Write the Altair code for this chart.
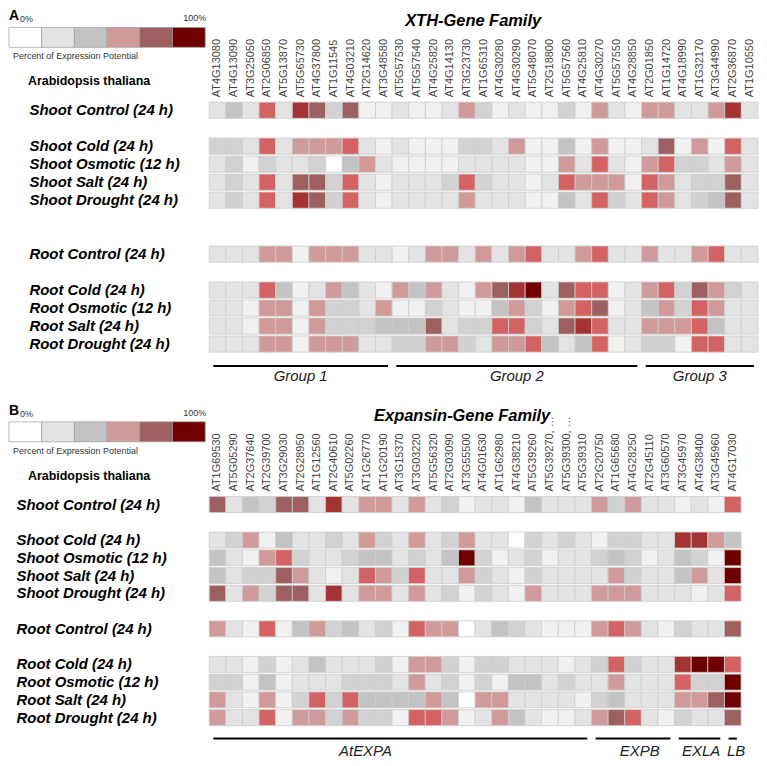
import altair as alt
import pandas as pd

# ---------------- colour classes (percent of expression potential) ----------------
LEVEL_COLORS = ["#ffffff", "#f1f1f1", "#e3e3e3", "#d2d2d2", "#c3c3c3",
                "#d19a9a", "#d46262", "#9d5f5f", "#a43434", "#700000"]
LEGEND_LEVELS = [0, 2, 4, 5, 7, 9]

ROW_LABELS = ["Shoot Control (24 h)", "Shoot Cold (24 h)", "Shoot Osmotic (12 h)",
              "Shoot Salt (24 h)", "Shoot Drought (24 h)", "Root Control (24 h)",
              "Root Cold (24 h)", "Root Osmotic (12 h)", "Root Salt (24 h)",
              "Root Drought (24 h)"]

# ---------------- panel A: XTH gene family ----------------
XTH_GENES = ["AT4G13080", "AT4G13090", "AT3G25050", "AT2G06850", "AT5G13870", "AT5G65730",
             "AT4G37800", "AT1G11545", "AT4G03210", "AT2G14620", "AT3G48580", "AT5G57530",
             "AT5G57540", "AT4G25820", "AT4G14130", "AT3G23730", "AT1G65310", "AT4G30280",
             "AT4G30290", "AT5G48070", "AT2G18800", "AT5G57560", "AT4G25810", "AT4G30270",
             "AT5G57550", "AT4G28850", "AT2G01850", "AT1G14720", "AT4G18990", "AT1G32170",
             "AT3G44990", "AT2G36870", "AT1G10550"]

XTH_SHOOT_CONTROL = [2, 4, 2, 6, 2, 8, 7, 3, 7, 1, 1, 2, 1, 1, 2, 5, 3, 1, 2, 1, 1, 3, 1, 5, 2, 1, 5, 5, 2, 2, 5, 8, 2]
XTH_SHOOT_COLD = [3, 3, 2, 6, 2, 5, 5, 5, 6, 2, 1, 2, 1, 1, 1, 3, 3, 2, 5, 1, 1, 4, 1, 5, 1, 1, 2, 7, 1, 5, 1, 6, 2]
XTH_SHOOT_OSMOTIC = [2, 3, 1, 3, 2, 2, 3, 0, 4, 5, 2, 1, 1, 1, 1, 2, 2, 2, 2, 1, 1, 5, 2, 6, 2, 1, 5, 6, 3, 3, 2, 5, 2]
XTH_SHOOT_SALT = [2, 3, 2, 6, 2, 7, 7, 3, 6, 2, 1, 2, 2, 2, 3, 6, 3, 2, 2, 1, 2, 6, 5, 5, 5, 1, 6, 5, 2, 3, 3, 7, 2]
XTH_SHOOT_DROUGHT = [2, 3, 2, 6, 2, 8, 7, 3, 6, 2, 1, 2, 2, 2, 2, 5, 2, 2, 2, 1, 1, 4, 2, 6, 3, 2, 6, 5, 2, 3, 4, 7, 2]
XTH_ROOT_CONTROL = [2, 2, 2, 5, 5, 1, 5, 5, 5, 2, 2, 1, 2, 5, 5, 2, 5, 2, 5, 6, 2, 2, 5, 6, 2, 2, 5, 2, 2, 5, 6, 2, 2]
XTH_ROOT_COLD = [2, 2, 2, 6, 4, 1, 2, 5, 4, 2, 1, 5, 4, 5, 2, 1, 5, 7, 8, 9, 2, 7, 6, 6, 1, 2, 5, 6, 3, 7, 5, 3, 2]
XTH_ROOT_OSMOTIC = [2, 2, 1, 5, 5, 1, 5, 3, 3, 2, 5, 1, 1, 3, 2, 1, 1, 4, 5, 3, 1, 5, 6, 7, 1, 2, 4, 5, 3, 6, 5, 2, 2]
XTH_ROOT_SALT = [2, 2, 1, 5, 5, 1, 5, 3, 3, 3, 4, 4, 4, 7, 2, 3, 3, 6, 6, 3, 2, 7, 8, 6, 2, 2, 5, 5, 5, 6, 4, 2, 2]
XTH_ROOT_DROUGHT = [2, 2, 2, 5, 5, 1, 5, 5, 5, 2, 2, 3, 3, 5, 5, 3, 2, 5, 5, 6, 4, 2, 4, 6, 1, 2, 3, 3, 1, 6, 6, 2, 2]

XTH_GROUP_NAMES = ["Group 1", "Group 2", "Group 3"]
XTH_GROUP_START = [0, 11, 26]
XTH_GROUP_END = [10, 25, 32]
XTH_GROUP_LABEL_AT = [5.5, 18.5, 29.5]

# ---------------- panel B: Expansin gene family ----------------
EXP_GENES = ["AT1G69530", "AT5G05290", "AT2G37640", "AT2G39700", "AT3G29030", "AT2G28950",
             "AT1G12560", "AT2G40610", "AT5G02260", "AT1G26770", "AT1G20190", "AT3G15370",
             "AT3G03220", "AT5G56320", "AT2G03090", "AT3G55500", "AT4G01630", "AT1G62980",
             "AT4G38210", "AT5G39260", "AT5G39270, \u2026", "AT5G39300, \u2026", "AT5G39310",
             "AT2G20750", "AT1G65680", "AT4G28250", "AT2G45110", "AT3G60570", "AT3G45970",
             "AT4G38400", "AT3G45960", "AT4G17030"]

EXP_SHOOT_CONTROL = [7, 2, 4, 3, 7, 7, 2, 8, 2, 5, 5, 2, 5, 2, 3, 1, 2, 2, 1, 4, 2, 2, 2, 5, 3, 5, 2, 2, 1, 2, 1, 6]
EXP_SHOOT_COLD = [2, 3, 5, 1, 4, 2, 2, 3, 2, 5, 3, 2, 5, 2, 3, 5, 2, 2, 0, 3, 2, 3, 2, 1, 3, 3, 2, 2, 8, 8, 5, 4]
EXP_SHOOT_OSMOTIC = [4, 2, 1, 5, 6, 3, 2, 2, 3, 4, 4, 2, 3, 2, 4, 9, 3, 1, 2, 3, 1, 2, 2, 3, 4, 3, 1, 2, 4, 3, 1, 9]
EXP_SHOOT_SALT = [4, 2, 3, 3, 7, 5, 2, 1, 2, 6, 5, 3, 6, 2, 2, 5, 3, 2, 1, 3, 2, 2, 2, 2, 5, 3, 2, 2, 4, 5, 2, 9]
EXP_SHOOT_DROUGHT = [7, 2, 5, 3, 7, 7, 2, 8, 2, 5, 5, 2, 5, 2, 3, 1, 3, 2, 1, 5, 2, 2, 2, 5, 5, 5, 2, 2, 2, 1, 2, 6]
EXP_ROOT_CONTROL = [5, 2, 1, 6, 1, 4, 5, 3, 4, 2, 3, 1, 6, 5, 5, 0, 2, 4, 3, 2, 1, 1, 1, 5, 6, 5, 2, 1, 3, 2, 2, 7]
EXP_ROOT_COLD = [2, 2, 1, 3, 1, 2, 4, 2, 2, 2, 3, 1, 5, 5, 3, 1, 3, 3, 2, 2, 2, 1, 2, 3, 6, 3, 2, 2, 8, 9, 9, 6]
EXP_ROOT_OSMOTIC = [3, 3, 1, 4, 1, 2, 2, 2, 3, 3, 3, 2, 5, 2, 3, 1, 3, 1, 4, 4, 2, 3, 2, 2, 5, 2, 2, 2, 6, 3, 3, 9]
EXP_ROOT_SALT = [5, 2, 1, 5, 1, 3, 6, 3, 6, 4, 4, 4, 4, 5, 4, 0, 5, 5, 2, 2, 2, 2, 1, 3, 4, 2, 2, 2, 5, 5, 7, 9]
EXP_ROOT_DROUGHT = [5, 2, 2, 6, 1, 5, 5, 3, 5, 3, 3, 1, 6, 6, 5, 1, 2, 5, 4, 2, 1, 1, 2, 5, 7, 6, 2, 1, 3, 2, 2, 7]

EXP_GROUP_NAMES = ["AtEXPA", "EXPB", "EXLA", "LB"]
EXP_GROUP_START = [0, 23, 28, 31]
EXP_GROUP_END = [22, 27, 30, 31]
EXP_GROUP_LABEL_AT = [9.4, 25.9, 29.6, 31.7]

XTH_ROWS = [XTH_SHOOT_CONTROL, XTH_SHOOT_COLD, XTH_SHOOT_OSMOTIC, XTH_SHOOT_SALT, XTH_SHOOT_DROUGHT,
            XTH_ROOT_CONTROL, XTH_ROOT_COLD, XTH_ROOT_OSMOTIC, XTH_ROOT_SALT, XTH_ROOT_DROUGHT]
EXP_ROWS = [EXP_SHOOT_CONTROL, EXP_SHOOT_COLD, EXP_SHOOT_OSMOTIC, EXP_SHOOT_SALT, EXP_SHOOT_DROUGHT,
            EXP_ROOT_CONTROL, EXP_ROOT_COLD, EXP_ROOT_OSMOTIC, EXP_ROOT_SALT, EXP_ROOT_DROUGHT]

L = ROW_LABELS
XTH_YDOMAIN = [L[0], "_a", L[1], L[2], L[3], L[4], "_b", "_c", L[5], "_d", L[6], L[7], L[8], L[9]]
EXP_YDOMAIN = [L[0], "_a", L[1], L[2], L[3], L[4], "_b", L[5], "_c", L[6], L[7], L[8], L[9]]

FONT = "Liberation Sans"


def text_layer(txt, x, y, **kw):
    return alt.Chart(pd.DataFrame({"t": [txt]})).mark_text(text=txt, **kw).encode(
        x=alt.value(x), y=alt.value(y))


def panel(letter, title, title_x, genes, rows, ydomain, groups, width, height,
          row_pad, line_y, label_y):
    n = len(genes)
    recs = []
    for label, vals in zip(ROW_LABELS, rows):
        for i, v in enumerate(vals):
            recs.append({"row": label, "col": i, "level": v})
    df = pd.DataFrame(recs)

    x_scale = alt.Scale(domain=[0, n], nice=False, zero=False)
    y_scale = alt.Scale(domain=ydomain, paddingInner=0.1, paddingOuter=0.0)
    color = alt.Color("level:O", legend=None,
                      scale=alt.Scale(domain=list(range(10)), range=LEVEL_COLORS))

    cells = alt.Chart(df).transform_calculate(col2="datum.col + 1").mark_rect(
        stroke="#cdcdcd", strokeWidth=0.8).encode(
        x=alt.X("col:Q", scale=x_scale, axis=None),
        x2="col2:Q",
        y=alt.Y("row:N", scale=y_scale,
                axis=alt.Axis(labelExpr="indexof(datum.value, '_') == 0 ? '' : datum.value",
                              labelAlign="left", labelPadding=row_pad, tickSize=0,
                              ticks=False, domain=False, grid=False, labelFontSize=15,
                              labelFontWeight="bold", labelFontStyle="italic",
                              labelColor="#000", title=None)),
        color=color,
    )

    gene_df = pd.DataFrame({"gene": genes, "col": list(range(n))})
    gene_labels = alt.Chart(gene_df).transform_calculate(pos="datum.col + 0.5").mark_text(
        angle=270, align="left", baseline="middle", fontSize=11, color="#444").encode(
        x=alt.X("pos:Q", scale=x_scale, axis=None), y=alt.value(-5), text="gene:N")

    names, starts, ends, label_at = groups
    gdf = pd.DataFrame({"name": names, "start": starts, "end": ends, "at": label_at})
    lines = alt.Chart(gdf).transform_calculate(
        a="datum.start + 0.25", b="datum.end + 0.75").mark_rule(
        color="#000", strokeWidth=2).encode(
        x=alt.X("a:Q", scale=x_scale, axis=None), x2="b:Q", y=alt.value(line_y))
    glabels = alt.Chart(gdf).mark_text(fontStyle="italic", fontSize=15, color="#222",
                                        baseline="middle").encode(
        x=alt.X("at:Q", scale=x_scale, axis=None), y=alt.value(label_y), text="name:N")

    layers = [cells, gene_labels, lines, glabels]

    # legend boxes (colour key)
    lx0, lx1 = -201, -4
    step = (lx1 - lx0) / len(LEGEND_LEVELS)
    for k, lv in enumerate(LEGEND_LEVELS):
        layers.append(
            alt.Chart(pd.DataFrame({"level": [lv]})).mark_rect(
                stroke="#9a9a9a", strokeWidth=0.7).encode(
                x=alt.value(lx0 + k * step), x2=alt.value(lx0 + (k + 1) * step),
                y=alt.value(-75), y2=alt.value(-55), color=color))

    layers += [
        text_layer(letter, -201, -86, fontSize=14, fontWeight="bold", align="left",
                   baseline="middle", color="#000"),
        text_layer(title, title_x, -81, fontSize=16.5, fontWeight="bold",
                   fontStyle="italic", align="center", baseline="middle", color="#000"),
        text_layer("0%", -190, -83, fontSize=9, align="left", baseline="middle", color="#333"),
        text_layer("100%", -3, -84, fontSize=9, align="right", baseline="middle", color="#333"),
        text_layer("Percent of Expression Potential", -197, -46, fontSize=9, align="left",
                   baseline="middle", color="#333"),
        text_layer("Arabidopsis thaliana", -182, -21, fontSize=12.5, fontWeight="bold",
                   align="left", baseline="middle", color="#000"),
    ]
    return alt.layer(*layers).properties(width=width, height=height)


top = panel("A", "XTH-Gene Family", 265, XTH_GENES, XTH_ROWS, XTH_YDOMAIN,
            (XTH_GROUP_NAMES, XTH_GROUP_START, XTH_GROUP_END, XTH_GROUP_LABEL_AT),
            width=551, height=251, row_pad=181, line_y=265, label_y=275)
bottom = panel("B", "Expansin-Gene Family", 254, EXP_GENES, EXP_ROWS, EXP_YDOMAIN,
               (EXP_GROUP_NAMES, EXP_GROUP_START, EXP_GROUP_END, EXP_GROUP_LABEL_AT),
               width=534, height=230, row_pad=194, line_y=243, label_y=255)

chart = alt.vconcat(top, bottom, spacing=20).properties(padding=0).configure(
    font=FONT).configure_view(stroke=None)

chart.save("out.html", embed_options={"renderer": "svg", "actions": False})
